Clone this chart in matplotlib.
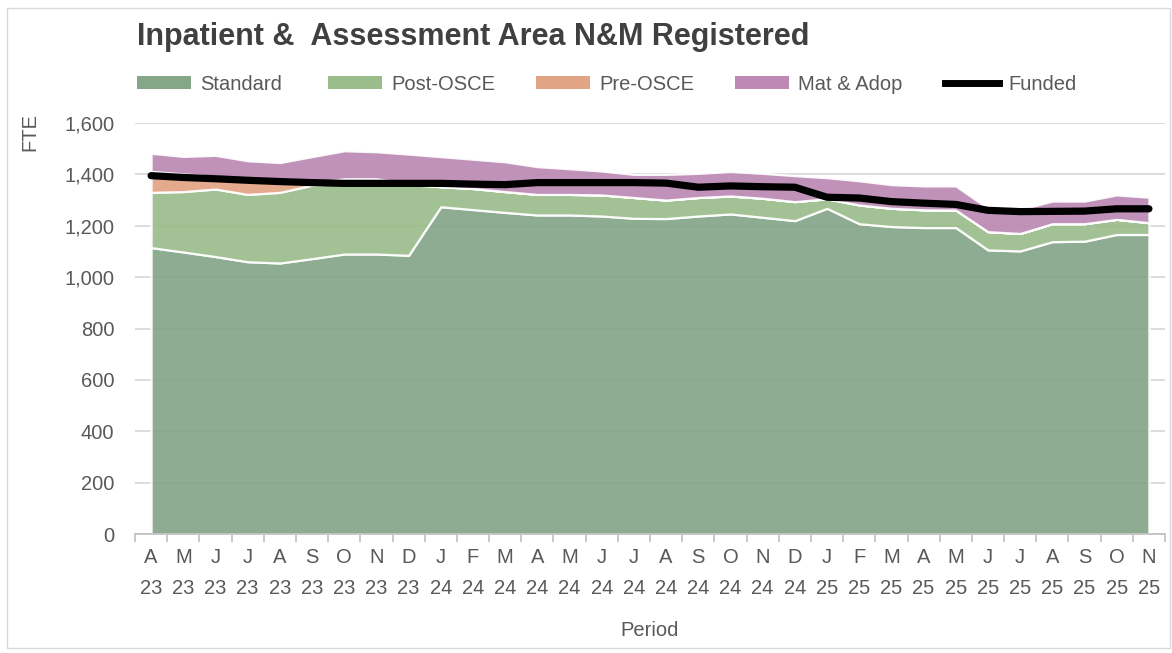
import matplotlib
matplotlib.use("Agg")
import matplotlib.pyplot as plt
from matplotlib.patches import Patch, Rectangle
from matplotlib.lines import Line2D
import numpy as np

months = ["A", "M", "J", "J", "A", "S", "O", "N", "D",
          "J", "F", "M", "A", "M", "J", "J", "A", "S", "O", "N", "D",
          "J", "F", "M", "A", "M", "J", "J", "A", "S", "O", "N"]
years = ["23"] * 9 + ["24"] * 12 + ["25"] * 11

standard = [1115, 1098, 1080, 1060, 1055, 1072, 1090, 1090, 1085,
            1274, 1263, 1252, 1242, 1242, 1238, 1229, 1228, 1238, 1246, 1233, 1220,
            1268, 1208, 1197, 1193, 1193, 1106, 1102, 1138, 1140, 1166, 1166]
post_osce = [215, 235, 263, 262, 275, 286, 275, 275, 275,
             78, 82, 81, 80, 80, 82, 81, 72, 72, 70, 74, 74,
             37, 73, 71, 69, 68, 71, 68, 70, 68, 59, 46]
pre_osce = [82, 69, 50, 56, 40, 10, 18, 18, 5,
            0, 0, 0, 0, 0, 0, 0, 0, 0, 0, 0, 0,
            0, 0, 0, 0, 0, 0, 0, 0, 0, 0, 0]
mat_adop = [70, 68, 81, 75, 76, 101, 109, 105, 114,
            117, 114, 116, 108, 100, 93, 90, 100, 94, 95, 97, 101,
            82, 94, 92, 93, 94, 91, 94, 88, 88, 95, 99]
funded = [1395, 1388, 1383, 1377, 1372, 1368, 1365, 1365, 1365,
          1365, 1362, 1360, 1368, 1368, 1368, 1368, 1366, 1350, 1355, 1352, 1350,
          1311, 1308, 1294, 1288, 1283, 1260, 1255, 1256, 1257, 1266, 1266]

names = ["Standard", "Post-OSCE", "Pre-OSCE", "Mat & Adop"]
colors = ["#86A68A", "#9BBD8C", "#E1A484", "#BC8AB4"]

plt.rcParams["font.family"] = ["Liberation Sans", "DejaVu Sans"]

grey = "#595959"
fig = plt.figure(figsize=(11.72, 6.53), dpi=100)
ax = fig.add_axes([135 / 1172, 1 - 534 / 653, 1030 / 1172, 411 / 653])

x = np.arange(len(months))
base = np.zeros(len(x))
for vals, c in zip([standard, post_osce, pre_osce, mat_adop], colors):
    top = base + np.array(vals)
    ax.fill_between(x, base, top, facecolor=c, edgecolor="white", linewidth=1.6, alpha=0.93, zorder=2)
    base = top
ax.plot(x, funded, color="black", linewidth=5.2, solid_capstyle="round", zorder=3)

ax.set_xlim(-0.5, len(x) - 0.5)
ax.set_ylim(0, 1600)
ax.set_yticks(range(0, 1601, 200))
ax.yaxis.set_major_formatter(matplotlib.ticker.FuncFormatter(lambda v, p: f"{int(v):,}"))
ax.grid(axis="y", color="#D9D9D9", linewidth=1.3, zorder=0)
ax.set_axisbelow(True)
for s in ["top", "right", "left"]:
    ax.spines[s].set_visible(False)
ax.spines["bottom"].set_color("#BFBFBF")
ax.spines["bottom"].set_linewidth(1.2)

ax.set_xticks(x)
ax.set_xticklabels([m + "\n" + y for m, y in zip(months, years)], linespacing=1.8)
ax.set_xticks(np.arange(-0.5, len(x)), minor=True)
ax.tick_params(axis="x", which="major", length=0, pad=10, labelsize=14.5, labelcolor=grey)
ax.tick_params(axis="x", which="minor", length=6, color="#BFBFBF", width=1.2)
ax.tick_params(axis="y", length=0, pad=15, labelsize=14.5, labelcolor=grey)

ax.set_xlabel("Period", fontsize=14.5, color=grey, labelpad=17)
fig.text(30 / 1172, 1 - 132 / 653, "FTE", rotation=90, fontsize=14.5, color=grey,
         ha="center", va="center")

fig.text(137 / 1172, 1 - 37 / 653, "Inpatient &  Assessment Area N&M Registered",
         fontsize=22, fontweight="bold", color="#404040", ha="left", va="center")

# legend entries placed one by one, like Excel spaces them
handles = [Patch(facecolor=c, edgecolor="none") for c in colors]
handles.append(Line2D([0], [0], color="black", linewidth=5))
labels = names + ["Funded"]
starts = [137, 328, 536, 735, 945]
for h, lab, xs in zip(handles, labels, starts):
    leg = fig.legend([h], [lab], loc="center left",
                     bbox_to_anchor=((xs - 8) / 1172, 1 - 84 / 653), frameon=False,
                     fontsize=14.5, labelcolor=grey, handlelength=2.7, handleheight=0.6,
                     handletextpad=0.45, borderaxespad=0, borderpad=0.4)

fig.patches.append(Rectangle((7 / 1172, 1 - 648 / 653), 1163 / 1172, 640 / 653,
                             transform=fig.transFigure, fill=False,
                             edgecolor="#D9D9D9", linewidth=1))

fig.savefig("out.png", dpi=100)
